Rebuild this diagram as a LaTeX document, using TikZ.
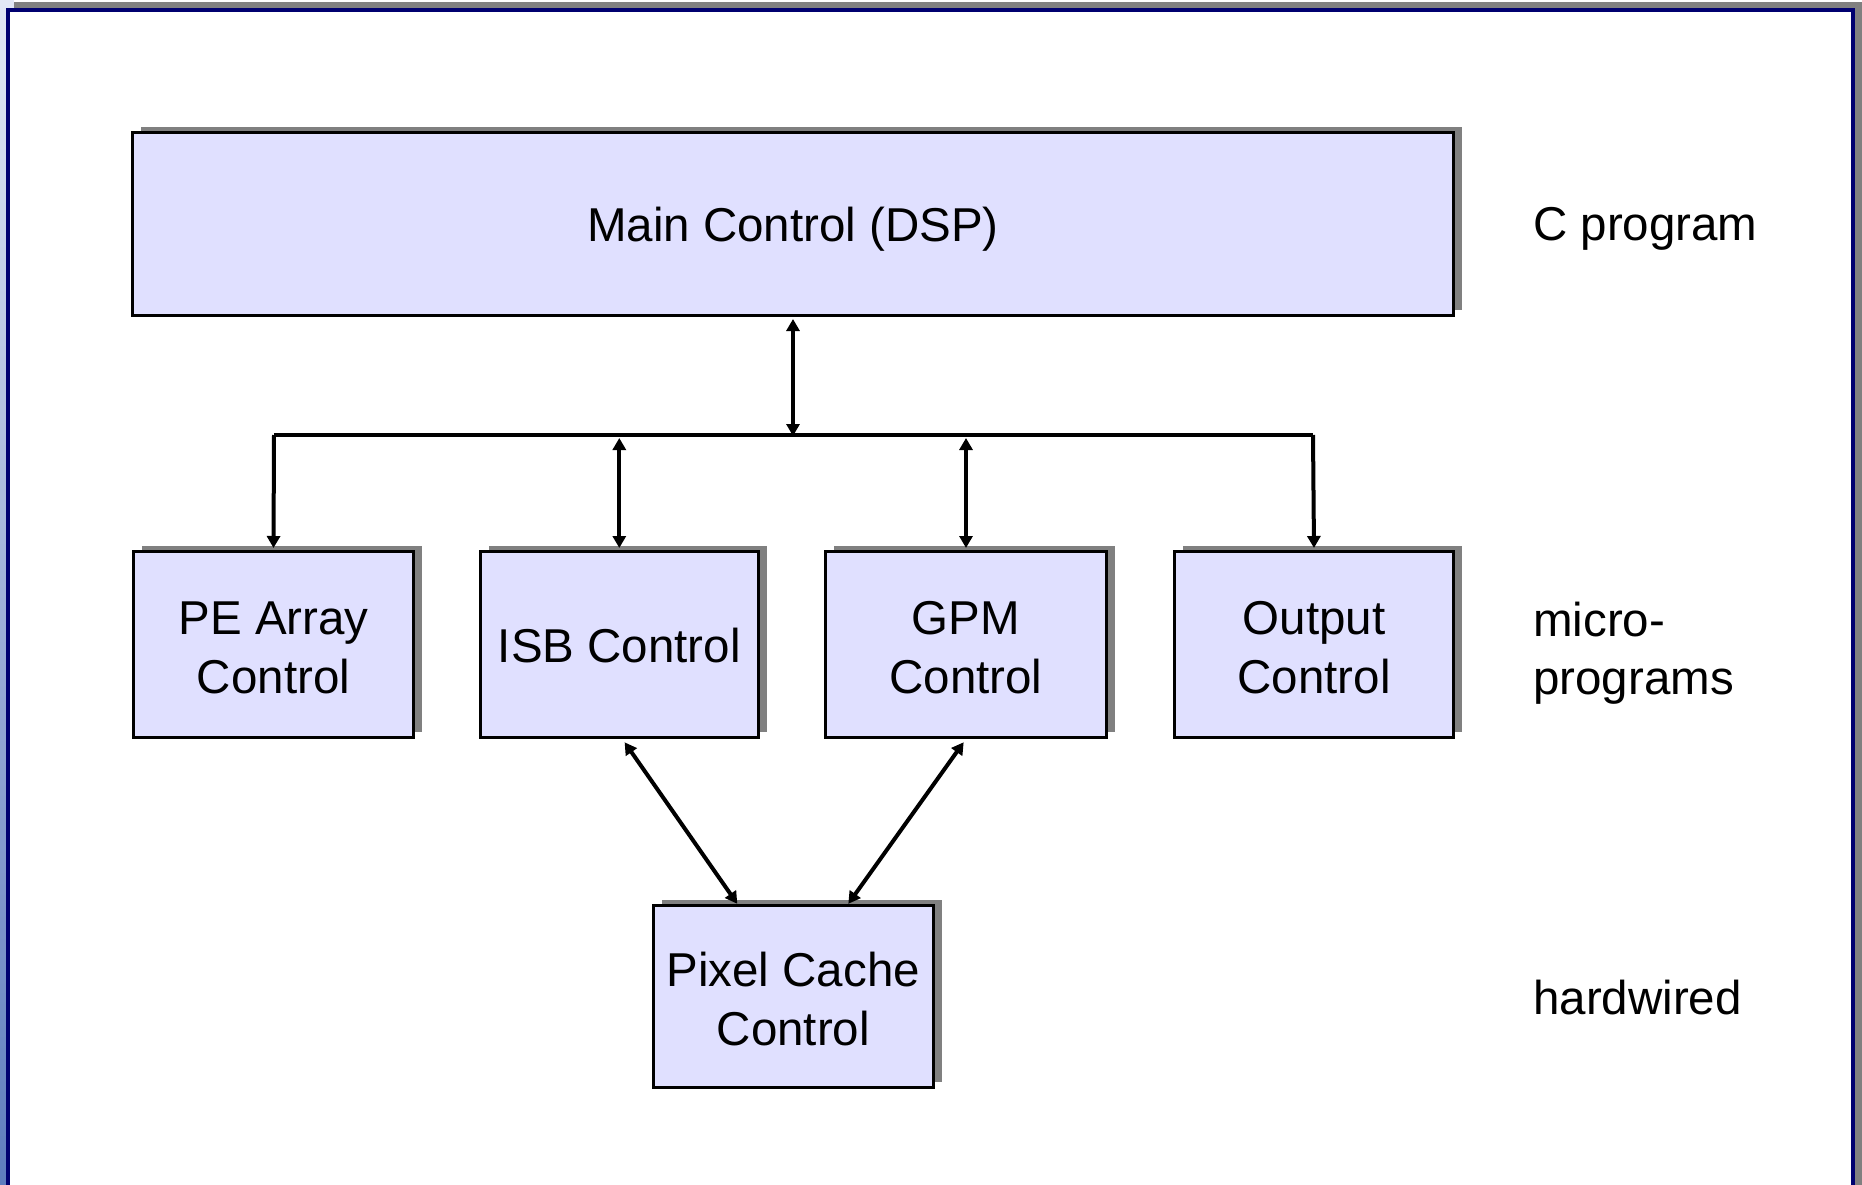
\documentclass[tikz,border=0pt]{standalone}
\usepackage{fontspec}
\setmainfont{Liberation Sans}
\usetikzlibrary{arrows.meta,shadows,calc}

\definecolor{boxfill}{RGB}{224,224,255}
\definecolor{shadowgray}{RGB}{128,128,128}
\definecolor{framenavy}{RGB}{0,0,112}
\definecolor{stripTop}{RGB}{226,232,245}
\definecolor{stripBot}{RGB}{94,124,190}

% invisible strut that sets the height of a box's first text line
\newcommand\headroom[1]{\rule{0pt}{#1}}

\tikzset{
  unitbox/.style={draw=black, line width=3pt, fill=boxfill, inner sep=0pt,
    align=center, font=\fontsize{47.5}{59}\selectfont,
    drop shadow={shadow xshift=8.5pt, shadow yshift=5.5pt, fill=shadowgray, opacity=1}},
  sidelabel/.style={inner sep=0pt, font=\fontsize{47.5}{59}\selectfont},
  link/.style={line width=4pt, >={Triangle[width=13pt,length=12pt]}},
}

\begin{document}
\begin{tikzpicture}[x=1pt, y=-1pt]
  \useasboundingbox (0,0) rectangle (1862,1185);

  % page frame: left gradient strip, grey drop edge, navy border
  \fill[white] (0,0) rectangle (1862,1185);
  \shade[top color=stripTop, bottom color=stripBot] (0,0) rectangle (6,1185);
  \fill[stripTop] (6,0) rectangle (14,8);
  \fill[shadowgray] (14,2) rectangle (1862,1185);
  \fill[framenavy] (6,8) rectangle (1855,1185);
  \fill[white] (10,12.5) rectangle (1851,1185);

  % control blocks
  \node[unitbox, text depth=0pt, minimum width=1321pt, minimum height=183pt] (main) at (793,224) {Main Control (DSP)};
  \node[unitbox, minimum width=280pt, minimum height=186pt] (pe)  at (273.5,644.5) {\headroom{40pt}PE Array\\Control};
  \node[unitbox, minimum width=278pt, minimum height=186pt] (isb) at (619.3,644.5) {\headroom{37pt}ISB Control};
  \node[unitbox, minimum width=281pt, minimum height=186pt] (gpm) at (966,644.5) {\headroom{40pt}GPM\\Control};
  \node[unitbox, minimum width=279pt, minimum height=186pt] (out) at (1314,644.5) {\headroom{40pt}Output\\Control};
  \node[unitbox, minimum width=280pt, minimum height=182pt] (pix) at (793.3,996.3) {\headroom{40pt}Pixel Cache\\Control};

  % level labels
  \node[sidelabel, anchor=base west] (lvlc) at (1533,240) {C program};
  \node[sidelabel, anchor=base west] (lvlm1) at (1533,636.5) {micro-};
  \node[sidelabel, anchor=base west] (lvlm2) at (1533,694.5) {programs};
  \node[sidelabel, anchor=base west] (lvlh) at (1533,1014) {hardwired};

  % control bus
  \coordinate (busL) at (274,435);
  \coordinate (busR) at (1313,435);
  \coordinate (busM) at (793,435);
  \draw[link] (busL) -- (busR);
  \draw[link, <->, shorten <=2pt, shorten >=-1pt] (main.south) -- (busM);
  \draw[link, ->, shorten >=2pt] (busL) -- (pe.north);
  \draw[link, ->, shorten >=2pt] (busR) -- (out.north);
  \draw[link, <->, shorten <=3pt, shorten >=2pt] (isb.north |- busM) -- (isb.north);
  \draw[link, <->, shorten <=3pt, shorten >=2pt] (gpm.north |- busM) -- (gpm.north);

  % links to the pixel cache
  \draw[link, <->, shorten <=4pt] ($(isb.south)+(3,0)$) -- ($(pix.north)+(-56,0)$);
  \draw[link, <->, shorten <=4pt] (gpm.south) -- ($(pix.north)+(55,0)$);
\end{tikzpicture}
\end{document}
